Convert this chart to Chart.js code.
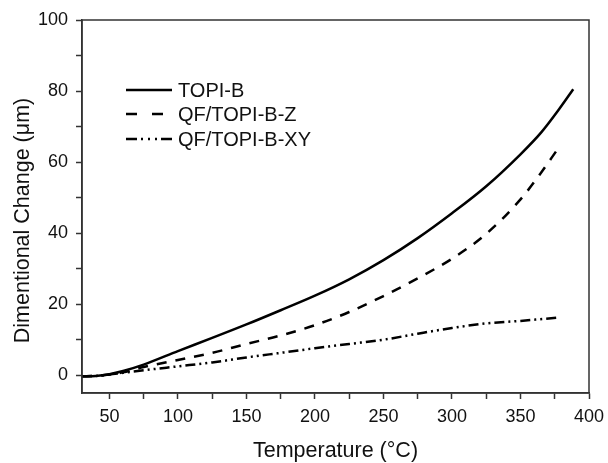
<!DOCTYPE html>
<html>
<head>
<meta charset="utf-8">
<script src="https://cdn.jsdelivr.net/npm/chart.js@4/dist/chart.umd.min.js"></script>
<style>
  html, body { margin: 0; padding: 0; background: #fff; }
  #wrap { width: 608px; height: 463px; }
</style>
</head>
<body>
<div id="wrap"><canvas id="dimChart" width="608" height="463"></canvas></div>
<script>
// temperature (°C) / dimentional change (µm)
const topiTemp = [30, 40, 50, 60, 75, 100, 125, 150, 175, 200, 225, 250, 275, 300, 325, 350, 365, 378, 388.5];
const topiVal  = [-0.3, -0.2, 0.3, 1.2, 3, 6.8, 10.5, 14.3, 18.3, 22.4, 27, 32.4, 38.6, 45.6, 53.2, 62.2, 68.3, 74.8, 80.5];

const zTemp = [30, 40, 50, 60, 75, 100, 125, 150, 175, 200, 225, 250, 275, 300, 325, 350, 365, 376.5];
const zVal  = [-0.3, -0.2, 0.2, 0.8, 2.3, 4.3, 6.3, 8.8, 11.2, 14.1, 17.8, 22.3, 27.3, 32.8, 39.8, 49.5, 57, 63.3];

const xyTemp = [30, 40, 50, 60, 75, 100, 125, 150, 175, 200, 225, 250, 275, 300, 325, 350, 376.5];
const xyVal  = [-0.3, -0.2, 0.2, 0.7, 1.4, 2.5, 3.6, 5, 6.3, 7.6, 8.8, 10, 11.7, 13.3, 14.6, 15.3, 16.2];

const seriesLabels = ['TOPI-B', 'QF/TOPI-B-Z', 'QF/TOPI-B-XY'];
const yTitle = 'Dimentional Change (\u03bcm)';

const FONT = "'Liberation Sans', Arial, sans-serif";

function toPoints(xs, ys) {
  return xs.map((x, i) => ({ x: x, y: ys[i] }));
}

// box around the plot area + the y title (sits a bit below centre in the original)
const framePlugin = {
  id: 'frame',
  afterDraw(chart) {
    const a = chart.chartArea;
    const ctx = chart.ctx;
    ctx.save();
    ctx.strokeStyle = '#333';
    ctx.lineWidth = 1.5;
    ctx.strokeRect(a.left, a.top, a.right - a.left, a.bottom - a.top);

    ctx.translate(23, (a.top + a.bottom) / 2 + 14);
    ctx.rotate(-Math.PI / 2);
    ctx.fillStyle = '#111';
    ctx.font = '21.5px ' + FONT;
    ctx.textAlign = 'center';
    ctx.textBaseline = 'middle';
    ctx.fillText(yTitle, 0, 0);
    ctx.restore();
  }
};

// legend sitting inside the plot, top left
const insideLegend = {
  id: 'insideLegend',
  afterDraw(chart) {
    const a = chart.chartArea;
    const ctx = chart.ctx;
    const x0 = a.left + 44, x1 = a.left + 90;
    const rowY = [a.top + 70, a.top + 94, a.top + 119];
    const legendDash = [[], [11, 15], [11, 4, 2, 5, 2, 5, 2, 4]];
    ctx.save();
    chart.data.datasets.forEach((ds, i) => {
      ctx.strokeStyle = '#000';
      ctx.lineWidth = 2.5;
      ctx.setLineDash(legendDash[i]);
      ctx.beginPath();
      ctx.moveTo(x0, rowY[i]);
      ctx.lineTo(x1, rowY[i]);
      ctx.stroke();
      ctx.setLineDash([]);
      ctx.fillStyle = '#111';
      ctx.font = '20px ' + FONT;
      ctx.textBaseline = 'middle';
      ctx.textAlign = 'left';
      ctx.fillText(ds.label, x1 + 6, rowY[i] + 1);
    });
    ctx.restore();
  }
};

const ctx = document.getElementById('dimChart').getContext('2d');
new Chart(ctx, {
  type: 'line',
  data: {
    datasets: [
      {
        label: seriesLabels[0],
        data: toPoints(topiTemp, topiVal),
        borderColor: '#000',
        borderWidth: 2.5,
        pointRadius: 0,
        cubicInterpolationMode: 'monotone'
      },
      {
        label: seriesLabels[1],
        data: toPoints(zTemp, zVal),
        borderColor: '#000',
        borderWidth: 2.5,
        borderDash: [10, 9],
        pointRadius: 0,
        cubicInterpolationMode: 'monotone'
      },
      {
        label: seriesLabels[2],
        data: toPoints(xyTemp, xyVal),
        borderColor: '#000',
        borderWidth: 2.5,
        borderDash: [10, 4, 2, 4, 2, 4],
        pointRadius: 0,
        cubicInterpolationMode: 'monotone'
      }
    ]
  },
  options: {
    responsive: false,
    animation: false,
    layout: { padding: { top: 20, right: 19, left: 0, bottom: 0 } },
    plugins: {
      legend: { display: false },
      tooltip: { enabled: false }
    },
    scales: {
      x: {
        type: 'linear',
        min: 30,
        max: 400,
        afterFit(scale) {
          scale.height = 70;
          scale.paddingLeft = 0;
          scale.paddingRight = 0;
        },
        ticks: {
          stepSize: 25,
          includeBounds: false,
          autoSkip: false,
          maxRotation: 0,
          padding: 7,
          color: '#111',
          font: { family: FONT, size: 18 },
          callback: v => (v % 50 === 0 ? v : '')
        },
        grid: {
          drawOnChartArea: false,
          tickLength: 6,
          tickColor: '#333',
          tickWidth: 1.5
        },
        border: { color: '#333', width: 1.5 },
        title: {
          display: true,
          text: 'Temperature (°C)',
          color: '#111',
          font: { family: FONT, size: 21.5 },
          padding: { top: 0, bottom: -1 }
        }
      },
      y: {
        min: -5,
        max: 100,
        afterFit(scale) {
          scale.width = 82;
          scale.paddingTop = 0;
          scale.paddingBottom = 0;
        },
        ticks: {
          stepSize: 10,
          includeBounds: false,
          autoSkip: false,
          padding: 8,
          color: '#111',
          font: { family: FONT, size: 18 },
          callback: v => (v % 20 === 0 ? v : '')
        },
        grid: {
          drawOnChartArea: false,
          tickLength: 6,
          tickColor: '#333',
          tickWidth: 1.5
        },
        border: { color: '#333', width: 1.5 }
      }
    }
  },
  plugins: [framePlugin, insideLegend]
});
</script>
</body>
</html>
